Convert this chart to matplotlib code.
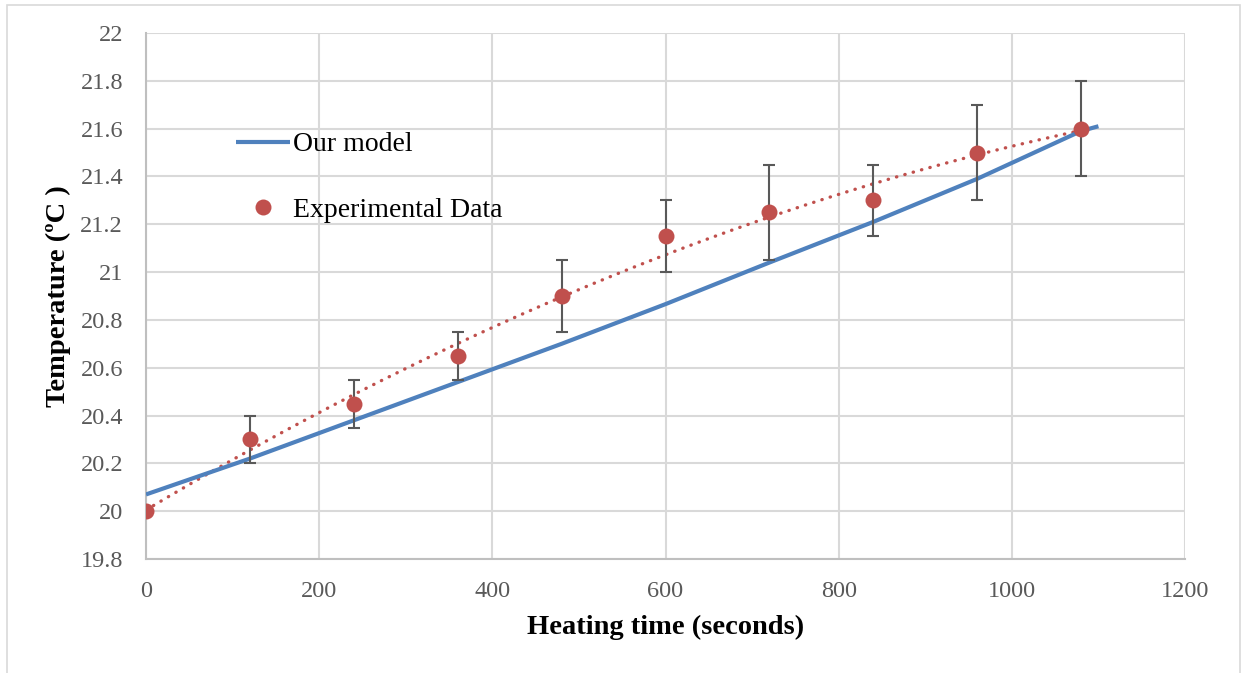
import matplotlib
matplotlib.use("Agg")
import matplotlib.pyplot as plt
import numpy as np
from matplotlib.patches import Rectangle

# measured heating data
t_data = np.array([0, 120, 240, 360, 480, 600, 720, 840, 960, 1080])
temp_data = np.array([20.0, 20.3, 20.45, 20.65, 20.9, 21.15, 21.25, 21.3, 21.5, 21.6])
temp_low = np.array([20.0, 20.2, 20.35, 20.55, 20.75, 21.0, 21.05, 21.15, 21.3, 21.4])
temp_high = np.array([20.0, 20.4, 20.55, 20.75, 21.05, 21.3, 21.45, 21.45, 21.7, 21.8])

# model prediction
t_model = np.array([0, 120, 240, 360, 480, 600, 720, 840, 960, 1080, 1100])
temp_model = np.array([20.07, 20.22, 20.38, 20.54, 20.70, 20.866, 21.04, 21.21, 21.39, 21.59, 21.61])

x_ticks = [0, 200, 400, 600, 800, 1000, 1200]
y_ticks = [19.8, 20, 20.2, 20.4, 20.6, 20.8, 21, 21.2, 21.4, 21.6, 21.8, 22]

plt.rcParams["font.family"] = ["Liberation Serif", "DejaVu Serif"]

blue = "#4F81BD"
red = "#C0504D"
grey_text = "#595959"

fig = plt.figure(figsize = (12.44, 6.73), dpi = 100)
ax = fig.add_axes([146/1244, 1 - 559/673, (1185-146)/1244, (559-33)/673])

# chart border
fig.patches.append(Rectangle(
    (7/1244, -0.01), (1240-7)/1244, 1 - 5/673 + 0.01,
    transform = fig.transFigure, fill = False,
    edgecolor = "#D9D9D9", lw = 1.2
    ))

# second order trendline through the measurements
coef = np.polyfit(t_data, temp_data, 2)
t_fit = np.linspace(t_data[0], t_data[-1], 200)
ax.plot(
    t_fit, np.polyval(coef, t_fit),
    color = red, lw = 2.4,
    linestyle = (0, (0.1, 2.5)), dash_capstyle = "round",
    zorder = 3
    )

model_line, = ax.plot(t_model, temp_model, color = blue, lw = 3.0,
                      solid_capstyle = "butt", zorder = 4)

ax.errorbar(
    t_data, temp_data,
    yerr = [temp_data - temp_low, temp_high - temp_data],
    linestyle = "none", ecolor = grey_text, elinewidth = 1.5,
    capsize = 4.3, capthick = 1.5, zorder = 5
    )
data_pts, = ax.plot(t_data, temp_data, "o", color = red, markersize = 11.5,
                    markeredgewidth = 0, linestyle = "none", zorder = 6)

ax.set_xlim(0, 1200)
ax.set_ylim(19.8, 22)
ax.set_xticks(x_ticks)
ax.set_yticks(y_ticks)
ax.set_xticklabels(["%g" % v for v in x_ticks])
ax.set_yticklabels(["%g" % v for v in y_ticks])
ax.tick_params(length = 0, labelsize = 17.5, labelcolor = grey_text)
ax.tick_params(axis = "x", pad = 16)
ax.tick_params(axis = "y", pad = 16.5)

ax.grid(True, color = "#D9D9D9", lw = 1.5, zorder = 0)
ax.set_axisbelow(True)
for side in ["top", "right"]:
    ax.spines[side].set_visible(False)
for side in ["left", "bottom"]:
    ax.spines[side].set_color("#BFBFBF")
    ax.spines[side].set_linewidth(1.5)

ax.set_xlabel("Heating time (seconds)", fontsize = 20.5, fontweight = "bold", va = "center")
ax.set_ylabel("Temperature (ºC )", fontsize = 20.5, fontweight = "bold", va = "center")
ax.xaxis.set_label_coords(0.5, (559 - 627) / 526)
ax.yaxis.set_label_coords((58 - 146) / 1039, 0.5)

ax.legend(
    [model_line, data_pts], ["Our model", "Experimental Data"],
    loc = "upper left", bbox_to_anchor = (236/1244, 1 - 132/673),
    bbox_transform = fig.transFigure,
    frameon = False, fontsize = 20, borderpad = 0, borderaxespad = 0,
    handlelength = 1.95, handletextpad = 0.1, labelspacing = 1.45
    )

fig.savefig("out.png", dpi = 100)
